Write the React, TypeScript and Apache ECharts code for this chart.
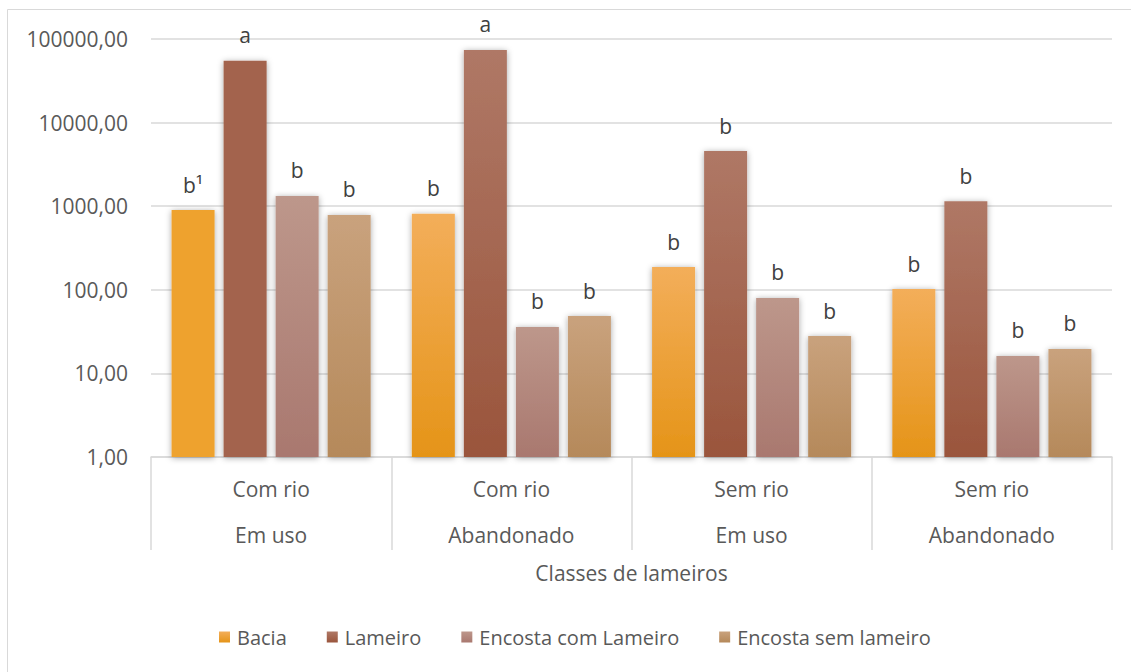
import React, { useEffect, useRef } from "react";
import * as echarts from "echarts";

const rioLabels = ["Com rio", "Com rio", "Sem rio", "Sem rio"];
const usoLabels = ["Em uso", "Abandonado", "Em uso", "Abandonado"];
const seriesNames = ["Bacia", "Lameiro", "Encosta com Lameiro", "Encosta sem lameiro"];

const bacia = [900, 810, 187, 102];
const lameiro = [55000, 74000, 4570, 1150];
const encostaCom = [1325, 36, 80, 16.2];
const encostaSem = [785, 48.5, 28, 19.6];

const baciaLetters = ["b¹", "b", "b", "b"];
const lameiroLetters = ["a", "a", "b", "b"];
const encostaComLetters = ["b", "b", "b", "b"];
const encostaSemLetters = ["b", "b", "b", "b"];

const yTicks = [1, 10, 100, 1000, 10000, 100000];

const FONT = "'Open Sans', sans-serif";
const TXT = "#595959";

function grad(top: string, bottom: string) {
  return new echarts.graphic.LinearGradient(0, 0, 0, 1, [
    { offset: 0, color: top },
    { offset: 1, color: bottom },
  ]);
}

export default function App() {
  const ref = useRef<HTMLDivElement>(null);
  useEffect(() => {
    if (!ref.current) return;
    const chart = echarts.init(ref.current, undefined, { renderer: "svg" });
    const categories = rioLabels.map((r, i) => r + "\n" + usoLabels[i]);

    const styles = [
      { colors: [grad("#F3AE5A", "#E59418")], first: "#EEA22F", legend: "#F0A02C" },
      { colors: [grad("#AF7866", "#9A553C")], first: "#A3634D", legend: "#A45D45" },
      { colors: [grad("#BD978B", "#A9786F")], first: null, legend: "#B58A80" },
      { colors: [grad("#C9A27D", "#B5895A")], first: null, legend: "#C29668" },
    ];
    const values = [bacia, lameiro, encostaCom, encostaSem];
    const letters = [baciaLetters, lameiroLetters, encostaComLetters, encostaSemLetters];

    const series = seriesNames.map((name, s) => ({
      name,
      type: "bar",
      barWidth: 43,
      barGap: "21%",
      data: values[s].map((v, i) => {
        const item: any = { value: v, label: { formatter: letters[s][i] } };
        if (i === 0 && styles[s].first) {
          item.itemStyle = { color: styles[s].first };
        }
        return item;
      }),
      itemStyle: {
        color: styles[s].colors[0],
        shadowBlur: 6,
        shadowColor: "rgba(0,0,0,0.35)",
        shadowOffsetX: 0,
        shadowOffsetY: 1,
      },
      label: {
        show: true,
        position: "top",
        distance: 15,
        fontFamily: FONT,
        fontSize: 21,
        color: "#404040",
      },
    }));

    chart.setOption({
      animation: false,
      backgroundColor: "#ffffff",
      color: styles.map((s) => s.legend),
      graphic: [
        {
          type: "rect",
          shape: { x: 7.5, y: 9.5, width: 1130, height: 670 },
          style: { fill: "none", stroke: "#d9d9d9", lineWidth: 1 },
          silent: true,
        },
      ],
      grid: { left: 151, right: 19, top: 39, bottom: 215, containLabel: false },
      legend: {
        left: 214,
        top: 622,
        itemWidth: 11,
        itemHeight: 11,
        itemGap: 40,
        icon: "rect",
        textStyle: { fontFamily: FONT, fontSize: 20, color: TXT, padding: [0, 0, 0, 2] },
        data: seriesNames,
      },
      xAxis: {
        type: "category",
        data: categories,
        name: "Classes de lameiros",
        nameLocation: "middle",
        nameGap: 100,
        nameTextStyle: { fontFamily: FONT, fontSize: 21, color: TXT },
        axisLine: { show: true, lineStyle: { color: "#d9d9d9", width: 1.5 } },
        axisTick: { show: true, interval: 0, length: 93, lineStyle: { color: "#d9d9d9", width: 1.5 } },
        axisLabel: {
          interval: 0,
          margin: 9,
          lineHeight: 46,
          fontFamily: FONT,
          fontSize: 21,
          color: TXT,
        },
      },
      yAxis: {
        type: "log",
        logBase: 10,
        min: yTicks[0],
        max: yTicks[yTicks.length - 1],
        axisLine: { show: false },
        axisTick: { show: false },
        splitLine: { lineStyle: { color: "#d9d9d9", width: 1.5 } },
        axisLabel: {
          margin: 23,
          fontFamily: FONT,
          fontSize: 21,
          color: TXT,
          formatter: (v: number) => {
            const r = Math.round(v);
            return r.toFixed(2).replace(".", ",");
          },
        },
      },
      series,
    });
    return () => chart.dispose();
  }, []);
  return (
    <div
      ref={ref}
      style={{ position: "fixed", left: 0, top: 0, width: 1131, height: 672 }}
    />
  );
}
